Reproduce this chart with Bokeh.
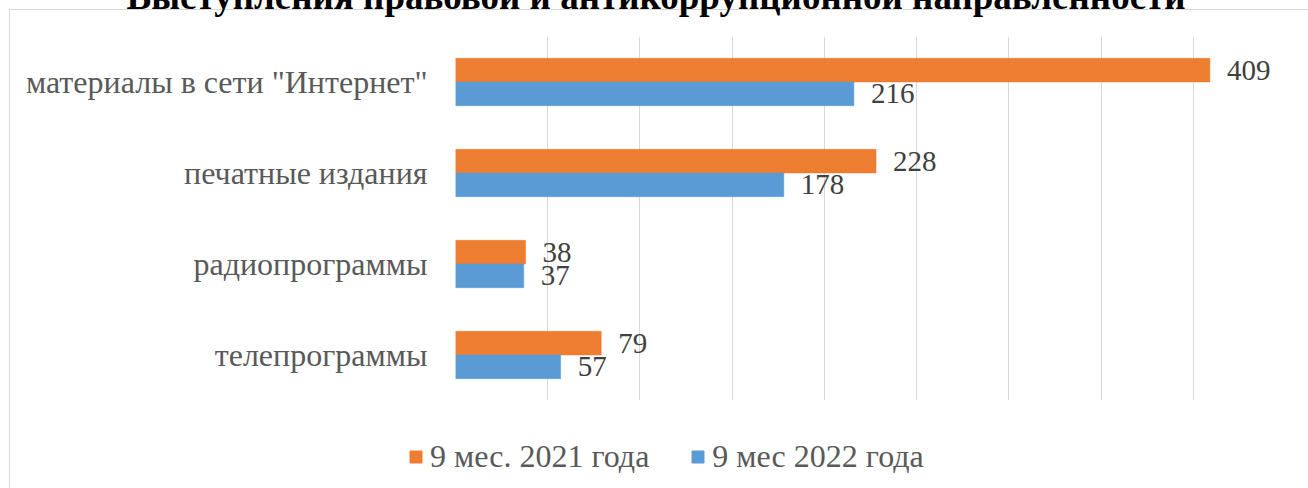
from bokeh.plotting import figure
from bokeh.models import (ColumnDataSource, FactorRange, Range1d, Legend, LegendItem,
                          FixedTicker)
from bokeh.transform import dodge
from bokeh.embed import file_html
from bokeh.resources import INLINE
from bokeh.core.properties import value

title_text = "Выступления правовой и антикоррупционной направленности"
categories = ["материалы в сети \"Интернет\"", "печатные издания", "радиопрограммы", "телепрограммы"]
series_names = ["9 мес. 2021 года", "9 мес 2022 года"]
values_2021 = [409, 228, 38, 79]
values_2022 = [216, 178, 37, 57]
x_ticks = [0, 50, 100, 150, 200, 250, 300, 350, 400, 450]

ORANGE = "#ED7D31"
BLUE = "#5B9BD5"
FONT = "Liberation Serif"
GREY = "#d9d9d9"

src = ColumnDataSource(dict(
    cat=categories,
    v21=values_2021,
    v22=values_2022,
    l21=[str(v) for v in values_2021],
    l22=[str(v) for v in values_2022],
))

SHIFT = 42            # the page starts SHIFT px above the window top (title is cut off there)
W = 1308
H1 = 420 + SHIFT      # main chart, window y -SHIFT .. 420
H2 = 488 - 420        # legend strip, window y 420 .. 488
FRAME_L, FRAME_R, FRAME_T, FRAME_B = 455, 1285, 37 + SHIFT, 400 + SHIFT

p = figure(width=W, height=H1, output_backend="svg", toolbar_location=None,
           y_range=FactorRange(factors=categories[::-1]),
           x_range=Range1d(0, 450), x_axis_location=None,
           min_border_left=FRAME_L, min_border_right=W - FRAME_R,
           min_border_top=0, min_border_bottom=H1 - FRAME_B)
p.margin = (-SHIFT, 0, 0, 0)
p.outline_line_color = None
p.background_fill_color = None
p.border_fill_color = None
p.styles = {
    "background": (f"linear-gradient({GREY},{GREY}) 9px {9 + SHIFT}px / 1px 2000px no-repeat, "
                   f"linear-gradient({GREY},{GREY}) 9px {9 + SHIFT}px / 3000px 1px no-repeat, "
                   "#ffffff"),
}

p.title.text = title_text
p.title.text_font = FONT
p.title.text_font_size = "37px"
p.title.text_font_style = "bold"
p.title.text_color = "black"
p.title.align = "left"
p.title.vertical_align = "top"
p.title.offset = -329
p.title.standoff = 35

p.xgrid.ticker = FixedTicker(ticks=x_ticks)
p.xgrid.grid_line_color = GREY
p.xgrid.grid_line_width = 1
p.ygrid.grid_line_color = None

r21 = p.hbar(y=dodge("cat", 0.13, range=p.y_range), left=0, right="v21", height=0.26,
             source=src, fill_color=ORANGE, line_color=ORANGE, line_width=0.5)
r22 = p.hbar(y=dodge("cat", -0.13, range=p.y_range), left=0, right="v22", height=0.26,
             source=src, fill_color=BLUE, line_color=BLUE, line_width=0.5)

p.text(x="v21", y=dodge("cat", 0.13, range=p.y_range), text="l21", source=src,
       x_offset=17, text_align="left", text_baseline="middle",
       text_font=value(FONT), text_font_size="29px", text_color="#404040")
p.text(x="v22", y=dodge("cat", -0.13, range=p.y_range), text="l22", source=src,
       x_offset=17, text_align="left", text_baseline="middle",
       text_font=value(FONT), text_font_size="29px", text_color="#404040")

ax = p.yaxis[0]
ax.axis_line_color = None
ax.major_tick_line_color = None
ax.minor_tick_line_color = None
ax.major_tick_out = 0
ax.major_tick_in = 0
ax.major_label_standoff = 28
ax.major_label_text_font = FONT
ax.major_label_text_font_size = "32px"
ax.major_label_text_color = "#595959"

# legend strip below the chart (separate root, so its frame spans the full width)
p2 = figure(width=W, height=H2, output_backend="svg", toolbar_location=None,
            x_range=Range1d(0, 1), y_range=Range1d(0, 1),
            x_axis_location=None, y_axis_location=None,
            min_border=0, min_border_left=0, min_border_right=0,
            min_border_top=0, min_border_bottom=0)
p2.outline_line_color = None
p2.background_fill_color = None
p2.border_fill_color = None
p2.grid.visible = False
p2.styles = {
    "background": f"linear-gradient({GREY},{GREY}) 9px 0px / 1px 2000px no-repeat, #ffffff",
}
# legend swatches: series keys placed off the visible range
key_src = ColumnDataSource(dict(y=[-10], right=[-10]))
k21 = p2.hbar(y="y", right="right", left=-20, height=0.5, source=key_src,
              fill_color=ORANGE, line_color=ORANGE)
k22 = p2.hbar(y="y", right="right", left=-20, height=0.5, source=key_src,
              fill_color=BLUE, line_color=BLUE)

legend = Legend(items=[LegendItem(label=series_names[0], renderers=[k21]),
                       LegendItem(label=series_names[1], renderers=[k22])],
                orientation="horizontal", location=(408, 13),
                padding=0, margin=0, spacing=41, label_standoff=7,
                glyph_width=15, glyph_height=15,
                label_text_font=FONT, label_text_font_size="32px",
                label_text_color="#595959",
                border_line_color=None, background_fill_alpha=0)
p2.add_layout(legend, "center")

open("out.html", "w").write(file_html([p, p2], INLINE))
